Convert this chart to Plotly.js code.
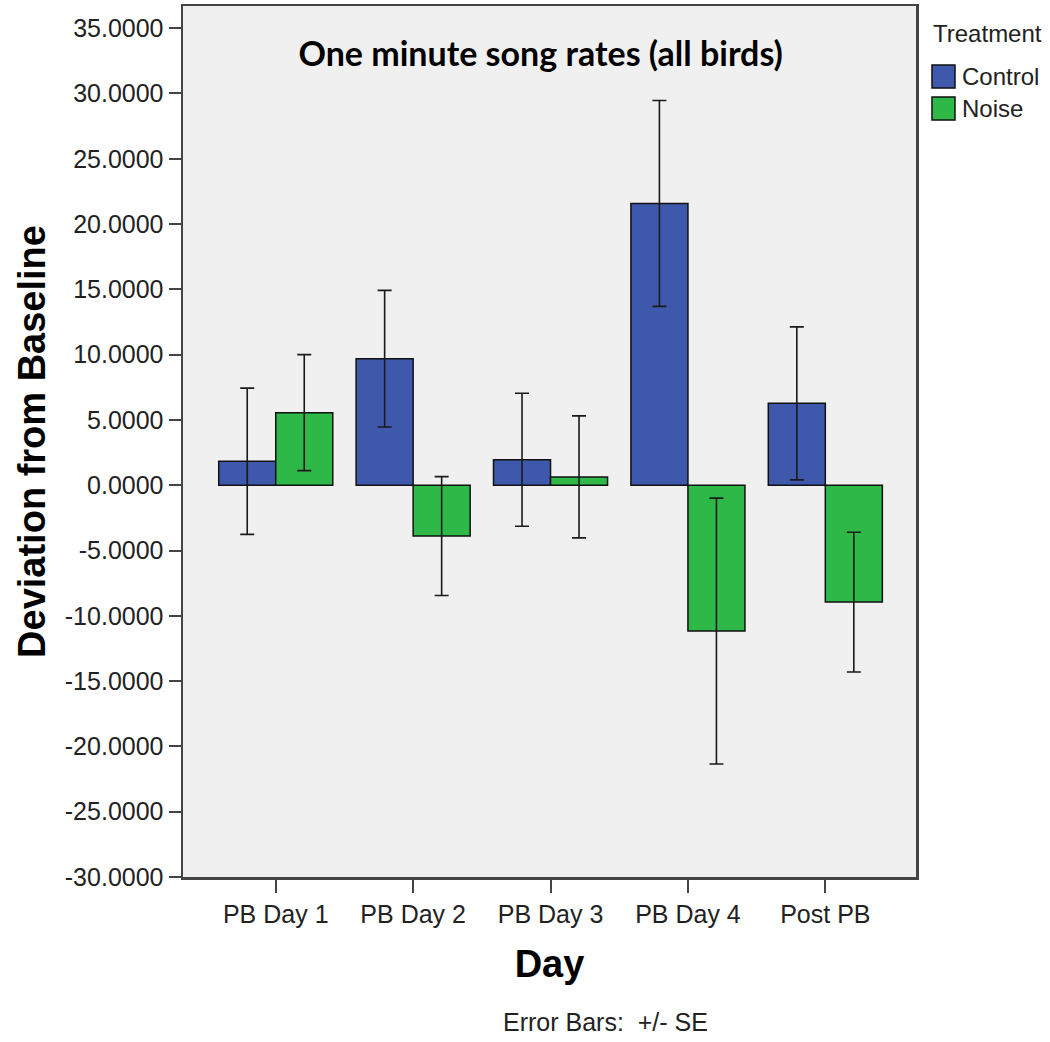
<!DOCTYPE html>
<html>
<head>
<meta charset="utf-8">
<script src="https://cdn.plot.ly/plotly-3.0.1.min.js"></script>
<style>html,body{margin:0;padding:0;background:#fff;}</style>
</head>
<body>
<div id="chart" style="width:1050px;height:1042px;"></div>
<script>
// ---- data ----
const days = ["PB Day 1", "PB Day 2", "PB Day 3", "PB Day 4", "Post PB"];
const treatments = ["Control", "Noise"];
const treatmentColors = ["#3E58AC", "#2EB848"];
const controlMean = [1.84, 9.69, 1.95, 21.58, 6.27];
const controlSE   = [5.60, 5.23, 5.09, 7.88, 5.86];
const noiseMean   = [5.56, -3.89, 0.64, -11.17, -8.95];
const noiseSE     = [4.44, 4.55, 4.67, 10.18, 5.35];
const yTickVals   = [-30, -25, -20, -15, -10, -5, 0, 5, 10, 15, 20, 25, 30, 35];
const yTickText   = ["-30.0000", "-25.0000", "-20.0000", "-15.0000", "-10.0000", "-5.0000", "0.0000",
                     "5.0000", "10.0000", "15.0000", "20.0000", "25.0000", "30.0000", "35.0000"];

const errStyle = {type: "data", symmetric: true, color: "#1a1a1a", thickness: 1.6, width: 7};
const means = [controlMean, noiseMean];
const ses = [controlSE, noiseSE];

const traces = treatments.map(function (name, i) {
  return {
    type: "bar", name: name, x: days, y: means[i],
    marker: {color: treatmentColors[i], line: {color: "#111", width: 1.5}},
    error_y: Object.assign({array: ses[i]}, errStyle),
    showlegend: false
  };
});

const sans = "Liberation Sans, Arial, sans-serif";
const axisFont = {family: sans, size: 25, color: "#222"};

// manual legend (SPSS style: title, then large swatches)
const legendShapes = [];
const legendAnns = [
  {text: "Treatment", xref: "paper", yref: "paper", x: 1.0205, y: 0.968, xanchor: "left", yanchor: "middle",
   showarrow: false, font: {family: sans, size: 24, color: "#222"}}
];
const swatchTop = [0.9323, 0.8955];
treatments.forEach(function (name, i) {
  legendShapes.push({
    type: "rect", xref: "paper", yref: "paper",
    x0: 1.0218, x1: 1.0532, y0: swatchTop[i] - 0.0265, y1: swatchTop[i],
    fillcolor: treatmentColors[i], line: {color: "#111", width: 1.5}
  });
  legendAnns.push({
    text: name, xref: "paper", yref: "paper", x: 1.0605, y: swatchTop[i] - 0.0135,
    xanchor: "left", yanchor: "middle", showarrow: false,
    font: {family: sans, size: 24, color: "#222"}
  });
});

const layout = {
  width: 1050, height: 1042,
  margin: {l: 183, r: 134, t: 6, b: 165},
  paper_bgcolor: "#ffffff",
  plot_bgcolor: "#F0F0F0",
  barmode: "group",
  bargap: 0.17, bargroupgap: 0,
  showlegend: false,
  title: {
    text: "One minute song rates (all birds)",
    font: {family: "Lato, Open Sans, sans-serif", size: 34, color: "#000", weight: "bold"},
    xref: "paper", yref: "paper", x: 0.488, y: 0.945, xanchor: "center", yanchor: "middle"
  },
  xaxis: {
    type: "category",
    range: [-0.675, 4.66],
    showline: true, linecolor: "#444", linewidth: 2.5, mirror: true,
    ticks: "outside", ticklen: 13, tickwidth: 2, tickcolor: "#444",
    tickfont: axisFont,
    showgrid: false, zeroline: false,
    title: {text: "Day", font: {family: sans, size: 38, color: "#000", weight: "bold"}, standoff: 24}
  },
  yaxis: {
    range: [-30, 36.7],
    tickvals: yTickVals, ticktext: yTickText,
    showline: true, linecolor: "#444", linewidth: 2.5, mirror: true,
    ticks: "outside", ticklen: 12, tickwidth: 2, tickcolor: "#444",
    tickfont: axisFont,
    showgrid: false, zeroline: false,
    title: {text: "Deviation from Baseline", font: {family: sans, size: 38, color: "#000", weight: "bold"}, standoff: 8}
  },
  shapes: legendShapes,
  annotations: legendAnns.concat([
    {
      text: "Error Bars:  +/- SE", xref: "paper", yref: "paper",
      x: 0.576, y: -0.166, xanchor: "center", yanchor: "middle", showarrow: false,
      font: {family: sans, size: 25, color: "#222"}
    }
  ])
};

Plotly.newPlot("chart", traces, layout, {displayModeBar: false, staticPlot: true});
</script>
</body>
</html>
